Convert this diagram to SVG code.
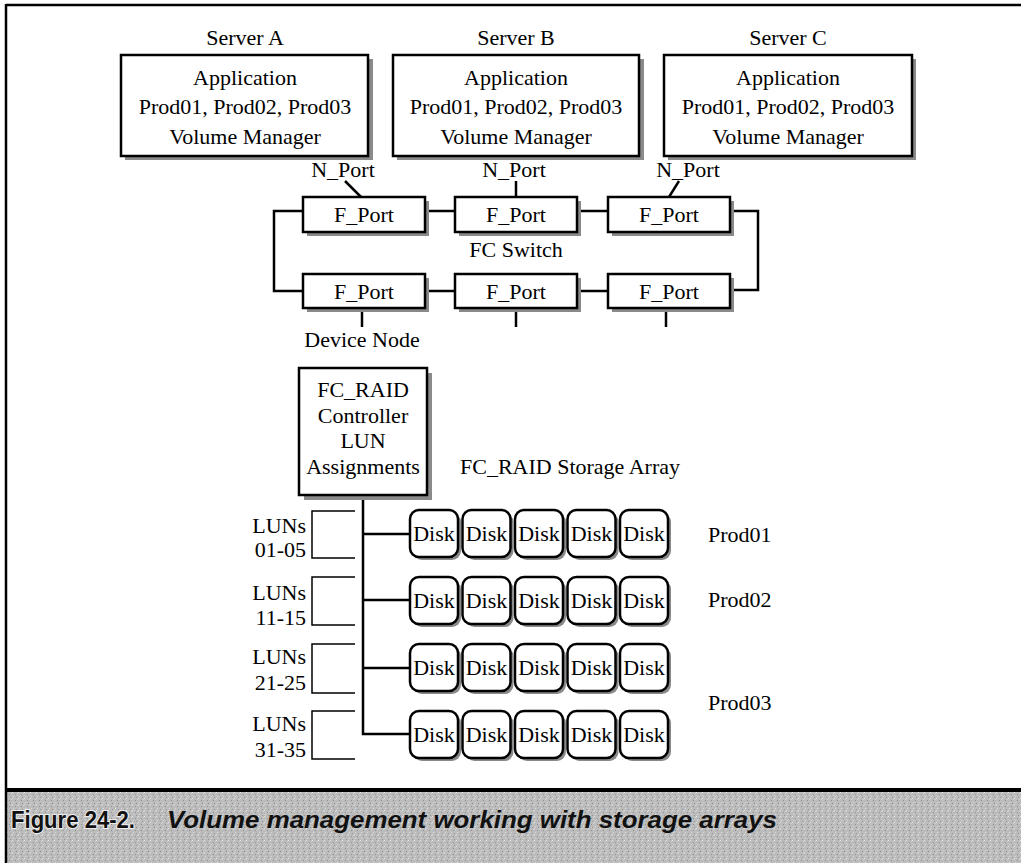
<svg xmlns="http://www.w3.org/2000/svg" width="1021" height="863" viewBox="0 0 1021 863">
<style>
.t{font-family:"Liberation Serif","Times New Roman",serif;font-size:22px;fill:#000;text-anchor:middle}
.te{font-family:"Liberation Serif","Times New Roman",serif;font-size:22px;fill:#000;text-anchor:end}
.ts{font-family:"Liberation Serif","Times New Roman",serif;font-size:22px;fill:#000}
.box{fill:#fff;stroke:#000;stroke-width:2.5}
.sh{fill:#8a8a8a}
.ln{fill:none;stroke:#000;stroke-width:2.5}
.lun{fill:none;stroke:#000;stroke-width:1.5}
.cap1{font-family:"Liberation Sans",Arial,sans-serif;font-weight:bold;font-size:23px;fill:#111;stroke:#eee;stroke-width:2;paint-order:stroke}
.cap2{font-family:"Liberation Sans",Arial,sans-serif;font-weight:bold;font-style:italic;font-size:23px;fill:#111}
</style>
<defs>
<pattern id="noise" width="6" height="6" patternUnits="userSpaceOnUse">
<rect width="6" height="6" fill="#bcbcbc"/>
<rect x="0" y="0" width="1" height="1" fill="#e4e4e4"/>
<rect x="3" y="2" width="1" height="1" fill="#8e8e8e"/>
<rect x="1" y="4" width="1" height="1" fill="#dadada"/>
<rect x="4" y="5" width="1" height="1" fill="#959595"/>
<rect x="5" y="1" width="1" height="1" fill="#d2d2d2"/>
</pattern>
<g id="disk">
<rect x="3" y="3" width="48" height="47" rx="9" fill="#8a8a8a"/>
<rect x="0" y="0" width="48" height="47" rx="9" fill="#fff" stroke="#000" stroke-width="2.5"/>
<text x="24" y="31" style="font-family:'Liberation Serif','Times New Roman',serif;font-size:22px;text-anchor:middle">Disk</text>
</g>
</defs>
<rect width="1021" height="863" fill="#fff"/>
<g id="frame">
<rect x="7" y="791" width="1014" height="72" fill="url(#noise)"/>
<line x1="6" y1="5" x2="1021" y2="5" stroke="#000" stroke-width="2.5"/>
<line x1="6" y1="4" x2="6" y2="863" stroke="#000" stroke-width="2.5"/>
<line x1="6" y1="790" x2="1021" y2="790" stroke="#000" stroke-width="4"/>
</g>
<g id="connectors">
<line class="ln" x1="345" y1="181" x2="361" y2="197"/>
<line class="ln" x1="516" y1="181" x2="516" y2="197"/>
<line class="ln" x1="679" y1="181" x2="669" y2="197"/>
<line class="ln" x1="428" y1="211" x2="455" y2="211"/>
<line class="ln" x1="580" y1="211" x2="608" y2="211"/>
<polyline class="ln" points="303,211 274,211 274,291 303,291"/>
<polyline class="ln" points="733,211 758,211 758,290 733,290"/>
<line class="ln" x1="428" y1="291" x2="455" y2="291"/>
<line class="ln" x1="580" y1="291" x2="608" y2="291"/>
<line class="ln" x1="362" y1="310" x2="362" y2="327"/>
<line class="ln" x1="516" y1="310" x2="516" y2="327"/>
<line class="ln" x1="666" y1="310" x2="666" y2="327"/>
<polyline class="ln" points="363,495 363,734 410,734"/>
<line class="ln" x1="363" y1="534" x2="410" y2="534"/>
<line class="ln" x1="363" y1="600" x2="410" y2="600"/>
<line class="ln" x1="363" y1="668" x2="410" y2="668"/>
</g>
<g id="serverA">
<text class="t" x="245" y="45">Server A</text>
<rect class="sh" x="125" y="59" width="248" height="101"/>
<rect class="box" x="121" y="55" width="247" height="101"/>
<text class="t" x="245" y="85">Application</text>
<text class="t" x="245" y="114">Prod01, Prod02, Prod03</text>
<text class="t" x="245" y="144">Volume Manager</text>
<text class="t" x="343" y="177">N_Port</text>
</g>
<g id="serverB">
<text class="t" x="516" y="45">Server B</text>
<rect class="sh" x="397" y="59" width="247" height="101"/>
<rect class="box" x="393" y="55" width="246" height="101"/>
<text class="t" x="516" y="85">Application</text>
<text class="t" x="516" y="114">Prod01, Prod02, Prod03</text>
<text class="t" x="516" y="144">Volume Manager</text>
<text class="t" x="514" y="177">N_Port</text>
</g>
<g id="serverC">
<text class="t" x="788" y="45">Server C</text>
<rect class="sh" x="668" y="59" width="248" height="101"/>
<rect class="box" x="664" y="55" width="248" height="101"/>
<text class="t" x="788" y="85">Application</text>
<text class="t" x="788" y="114">Prod01, Prod02, Prod03</text>
<text class="t" x="788" y="144">Volume Manager</text>
<text class="t" x="688" y="177">N_Port</text>
</g>
<g id="fport1"><rect class="sh" x="307" y="201" width="122" height="35"/><rect class="box" x="303" y="197" width="122" height="35"/><text class="t" x="364" y="222">F_Port</text></g>
<g id="fport2"><rect class="sh" x="459" y="201" width="122" height="35"/><rect class="box" x="455" y="197" width="122" height="35"/><text class="t" x="516" y="222">F_Port</text></g>
<g id="fport3"><rect class="sh" x="612" y="201" width="122" height="35"/><rect class="box" x="608" y="197" width="122" height="35"/><text class="t" x="669" y="222">F_Port</text></g>
<g id="fcswitch"><text class="t" x="516" y="257">FC Switch</text></g>
<g id="fport4"><rect class="sh" x="307" y="278" width="122" height="34"/><rect class="box" x="303" y="274" width="122" height="34"/><text class="t" x="364" y="299">F_Port</text></g>
<g id="fport5"><rect class="sh" x="459" y="278" width="122" height="34"/><rect class="box" x="455" y="274" width="122" height="34"/><text class="t" x="516" y="299">F_Port</text></g>
<g id="fport6"><rect class="sh" x="612" y="278" width="122" height="34"/><rect class="box" x="608" y="274" width="122" height="34"/><text class="t" x="669" y="299">F_Port</text></g>
<g id="devicenode"><text class="t" x="362" y="347">Device Node</text></g>
<g id="controller">
<rect class="sh" x="304" y="373" width="128" height="127"/>
<rect class="box" x="299" y="368" width="128" height="127"/>
<text class="t" x="363" y="397">FC_RAID</text>
<text class="t" x="363" y="423">Controller</text>
<text class="t" x="363" y="448">LUN</text>
<text class="t" x="363" y="474">Assignments</text>
</g>
<g id="arraylabel"><text class="t" x="570" y="474">FC_RAID Storage Array</text></g>
<g id="lun1"><path class="lun" d="M355,511 H312 V558 H355"/><text class="te" x="306" y="533">LUNs</text><text class="te" x="306" y="557">01-05</text></g>
<g id="lun2"><path class="lun" d="M355,577 H312 V625 H355"/><text class="te" x="306" y="600">LUNs</text><text class="te" x="306" y="625">11-15</text></g>
<g id="lun3"><path class="lun" d="M355,644 H312 V693 H355"/><text class="te" x="306" y="664">LUNs</text><text class="te" x="306" y="690">21-25</text></g>
<g id="lun4"><path class="lun" d="M355,711 H312 V759 H355"/><text class="te" x="306" y="731">LUNs</text><text class="te" x="306" y="757">31-35</text></g>
<g id="row1">
<use href="#disk" x="410" y="510"/><use href="#disk" x="462.5" y="510"/><use href="#disk" x="515" y="510"/><use href="#disk" x="567.5" y="510"/><use href="#disk" x="620" y="510"/>
</g>
<g id="row2">
<use href="#disk" x="410" y="577"/><use href="#disk" x="462.5" y="577"/><use href="#disk" x="515" y="577"/><use href="#disk" x="567.5" y="577"/><use href="#disk" x="620" y="577"/>
</g>
<g id="row3">
<use href="#disk" x="410" y="644"/><use href="#disk" x="462.5" y="644"/><use href="#disk" x="515" y="644"/><use href="#disk" x="567.5" y="644"/><use href="#disk" x="620" y="644"/>
</g>
<g id="row4">
<use href="#disk" x="410" y="711"/><use href="#disk" x="462.5" y="711"/><use href="#disk" x="515" y="711"/><use href="#disk" x="567.5" y="711"/><use href="#disk" x="620" y="711"/>
</g>
<g id="prodlabels">
<text class="ts" x="708" y="542">Prod01</text>
<text class="ts" x="708" y="607">Prod02</text>
<text class="ts" x="708" y="710">Prod03</text>
</g>
<g id="caption">
<text class="cap1" x="11" y="828" textLength="124" lengthAdjust="spacingAndGlyphs">Figure 24-2.</text>
<text class="cap2" x="167" y="828" textLength="610" lengthAdjust="spacingAndGlyphs">Volume management working with storage arrays</text>
</g>
</svg>
